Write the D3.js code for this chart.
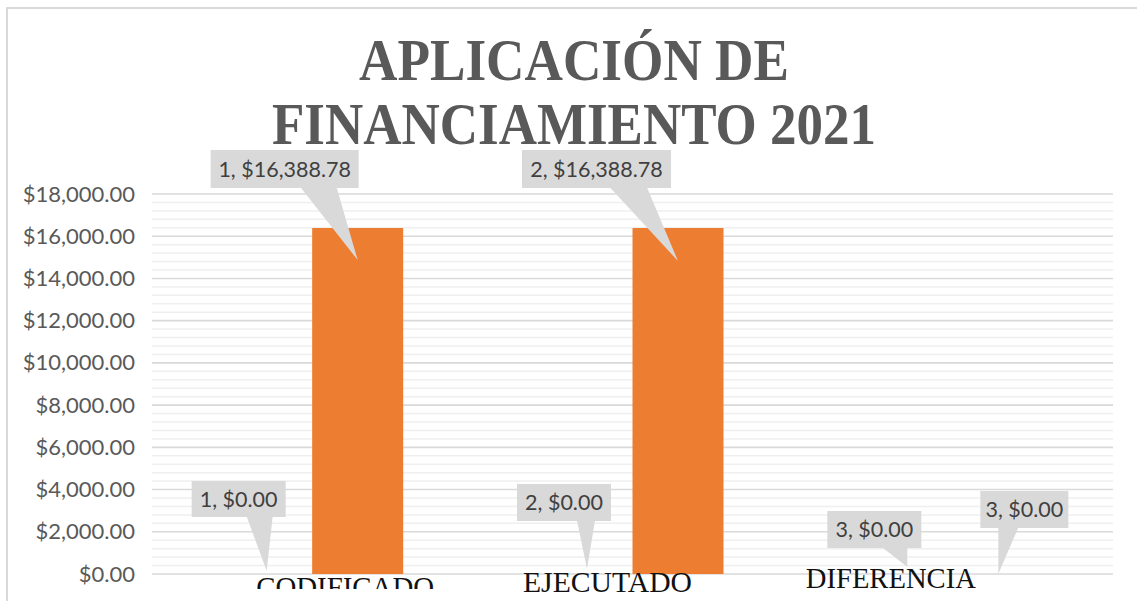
<!DOCTYPE html>
<html>
<head>
<meta charset="utf-8">
<script src="https://cdn.jsdelivr.net/npm/d3@7"></script>
<style>
  html, body { margin: 0; padding: 0; background: #fff; }
  svg { display: block; }
</style>
</head>
<body>
<svg id="chart" width="1137" height="601"></svg>
<script>
// Data
const categories = ["CODIFICADO", "EJECUTADO", "DIFERENCIA"];
const seriesNames = ["A", "B"];
const seriesA = [0, 0, 0];
const seriesB = [16388.78, 16388.78, 0];
const yTicks = [0, 2000, 4000, 6000, 8000, 10000, 12000, 14000, 16000, 18000];
const titleLines = ["APLICACIÓN DE", "FINANCIAMIENTO 2021"];

// Callout placement for each data label (box offset from the pointer tip)
const calloutLayout = [
  // series A
  [{ tipDy: -3, dx: -75, dy: -90, w: 94, h: 36, b0: -20, b1: 6 },
   { tipDy: -5, dx: -70, dy: -85, w: 94, h: 37, b0: -10, b1: 8 },
   { tipDy: -7, dx: -80, dy: -56, w: 94, h: 37, b0: -25, b1: 0 }],
  // series B
  [{ tipDy: 32, dx: -147, dy: -110, w: 148, h: 38, b0: -57, b1: -21 },
   { tipDy: 33, dx: -156, dy: -111, w: 149, h: 38, b0: -68, b1: -31 },
   { tipDy: 0, dx: -18, dy: -83, w: 88, h: 37, b0: 0, b1: 20 }]
];
// Category caption placement (offset from group centre, baseline)
const captionLayout = [
  { dx: 33, base: 597, len: 178, clip: 589 },
  { dx: -25, base: 592, len: 169, clip: null },
  { dx: -62, base: 588, len: 170, clip: null }
];

const svg = d3.select("#chart");
const plotLeft = 152, plotRight = 1113, plotTop = 194, plotBottom = 574;

// Outer frame
svg.append("rect")
  .attr("x", 7).attr("y", 8).attr("width", 1300).attr("height", 800)
  .attr("fill", "#fff").attr("stroke", "#d9d9d9").attr("stroke-width", 2);

const y = d3.scaleLinear().domain([0, 18000]).range([plotBottom, plotTop]);
const x0 = d3.scaleBand().domain(categories).range([plotLeft, plotRight]).padding(0);
const x1 = d3.scaleBand().domain(seriesNames).range([0, x0.bandwidth()])
  .paddingInner(0).paddingOuter(0.76);

// Minor gridlines
const minor = d3.range(400, 18000, 400).filter(v => v % 2000 !== 0);
svg.append("g").selectAll("line").data(minor).join("line")
  .attr("x1", plotLeft).attr("x2", plotRight)
  .attr("y1", d => y(d)).attr("y2", d => y(d))
  .attr("stroke", "#efefef").attr("stroke-width", 1.5);

// Major gridlines
svg.append("g").selectAll("line").data(yTicks).join("line")
  .attr("x1", plotLeft).attr("x2", plotRight)
  .attr("y1", d => y(d)).attr("y2", d => y(d))
  .attr("stroke", "#d9d9d9").attr("stroke-width", 1.6);

// Y axis labels
const fmt = d3.format("$,.2f");
const yAxis = d3.axisLeft(y).tickValues(yTicks).tickFormat(fmt).tickSize(0).tickPadding(0);
const gy = svg.append("g").attr("transform", `translate(135,0)`).call(yAxis);
gy.select(".domain").remove();
gy.selectAll("text")
  .attr("fill", "#595959")
  .style("font-family", "Lato, 'Open Sans', sans-serif")
  .style("font-size", "22px");

// Title
svg.append("g").selectAll("text").data(titleLines).join("text")
  .attr("x", 574).attr("y", (d, i) => 80 + i * 64)
  .attr("text-anchor", "middle")
  .attr("textLength", (d, i) => i === 0 ? 430 : 604)
  .attr("lengthAdjust", "spacingAndGlyphs")
  .attr("fill", "#595959")
  .style("font-family", "'Liberation Serif', 'Times New Roman', serif")
  .style("font-weight", "bold")
  .style("font-size", "59px")
  .text(d => d);

// Bars
const allSeries = [seriesA, seriesB];
allSeries.forEach((vals, si) => {
  svg.append("g").selectAll("rect").data(vals).join("rect")
    .attr("x", (d, i) => x0(categories[i]) + x1(seriesNames[si]))
    .attr("width", x1.bandwidth())
    .attr("y", d => y(d))
    .attr("height", d => y(0) - y(d))
    .attr("fill", "#ed7d31");
});

// Callout data labels
const callouts = svg.append("g");
allSeries.forEach((vals, si) => {
  vals.forEach((v, i) => {
    const L = calloutLayout[si][i];
    const tx = x0(categories[i]) + x1(seriesNames[si]) + x1.bandwidth() / 2;
    const ty = y(v) + L.tipDy;
    const bx = tx + L.dx, by = ty + L.dy;
    const g = callouts.append("g");
    g.append("rect").attr("x", bx).attr("y", by).attr("width", L.w).attr("height", L.h)
      .attr("fill", "#d9d9d9");
    g.append("path")
      .attr("d", `M${tx + L.b0},${by + L.h - 0.5} L${tx + L.b1},${by + L.h - 0.5} L${tx},${ty} Z`)
      .attr("fill", "#d9d9d9");
    g.append("text")
      .attr("x", bx + L.w / 2).attr("y", by + L.h / 2 + 7.5)
      .attr("text-anchor", "middle")
      .attr("fill", "#404040")
      .style("font-family", "Lato, 'Open Sans', sans-serif")
      .style("font-size", "21.5px")
      .text(`${i + 1}, ${fmt(v)}`);
  });
});

// Category captions
const defs = svg.append("defs");
categories.forEach((c, i) => {
  const L = captionLayout[i];
  const t = svg.append("text")
    .attr("x", x0(c) + x0.bandwidth() / 2 + L.dx).attr("y", L.base)
    .attr("text-anchor", "middle")
    .attr("textLength", L.len)
    .attr("lengthAdjust", "spacingAndGlyphs")
    .attr("fill", "#111")
    .style("font-family", "'Liberation Serif', 'Times New Roman', serif")
    .style("font-size", "30px")
    .text(c);
  if (L.clip) {
    defs.append("clipPath").attr("id", "cap" + i)
      .append("rect").attr("x", 0).attr("y", 0).attr("width", 1137).attr("height", L.clip);
    t.attr("clip-path", `url(#cap${i})`);
  }
});
</script>
</body>
</html>
